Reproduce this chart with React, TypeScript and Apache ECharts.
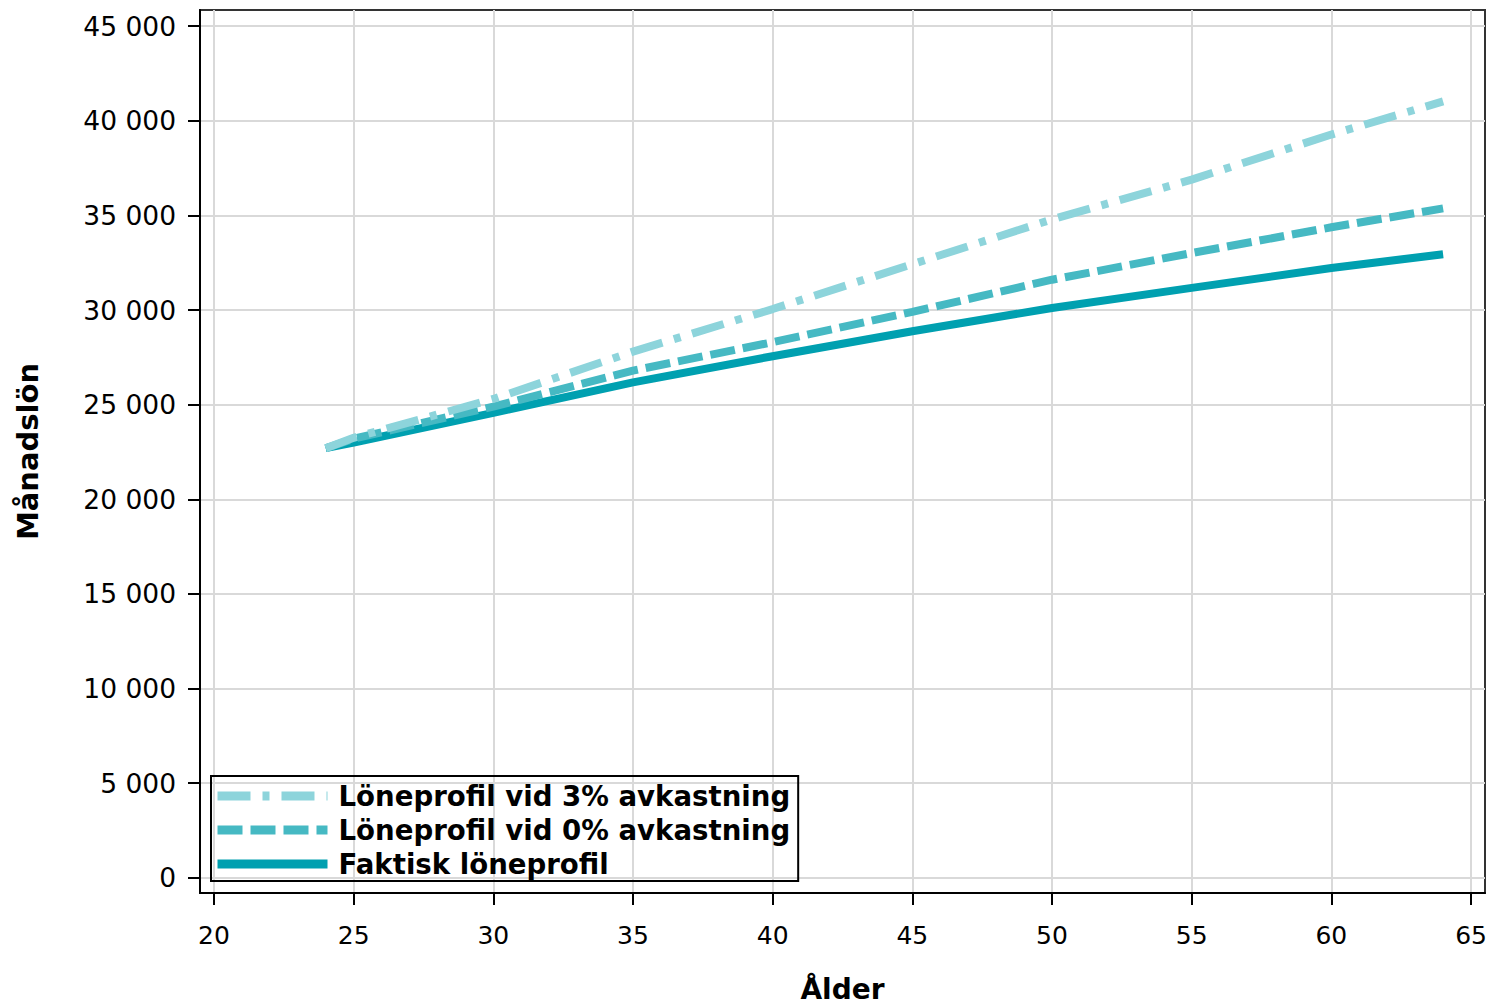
import React, { useEffect, useRef } from "react";
import * as echarts from "echarts";

const ages = [24, 25, 30, 35, 40, 45, 50, 55, 60, 64];
const actualProfile = [22700, 23000, 24570, 26180, 27560, 28880, 30110, 31170, 32220, 32950];
const zeroReturnProfile = [22700, 23200, 24900, 26800, 28300, 29900, 31600, 33010, 34370, 35370];
const threeReturnProfile = [22700, 23250, 25300, 27800, 30050, 32420, 34790, 36890, 39270, 41020];

const xTicks = [20, 25, 30, 35, 40, 45, 50, 55, 60, 65];
const yTicks = [0, 5000, 10000, 15000, 20000, 25000, 30000, 35000, 40000, 45000];

const seriesNames = [
  "Löneprofil vid 3% avkastning",
  "Löneprofil vid 0% avkastning",
  "Faktisk löneprofil",
];

const FONT = "'DejaVu Sans', Verdana, sans-serif";

const fmtThousands = (v: number) =>
  String(v).replace(/\B(?=(\d{3})+(?!\d))/g, " ");

export default function App() {
  const ref = useRef<HTMLDivElement>(null);

  useEffect(() => {
    document.body.style.margin = "0";
    if (!ref.current) return;
    const chart = echarts.init(ref.current, null, { renderer: "svg" });

    const pairs = (vals: number[]) => ages.map((a, i) => [a, vals[i]]);

    chart.setOption({
      animation: false,
      textStyle: { fontFamily: FONT },
      grid: {
        left: 200,
        right: 7,
        top: 10,
        bottom: 111,
        containLabel: false,
        outerBoundsMode: "none",
        show: true,
        borderColor: "#333",
        borderWidth: 2,
        backgroundColor: "transparent",
      },
      legend: {
        orient: "vertical",
        left: 211,
        top: 776,
        borderColor: "#000",
        borderWidth: 2,
        padding: [5, 8, 2, 2],
        itemWidth: 110,
        itemHeight: 14,
        itemGap: 4,
        itemStyle: { opacity: 0 },
        lineStyle: { width: 9 },
        textStyle: {
          fontFamily: FONT,
          fontSize: 27.6,
          fontWeight: "bold",
          color: "#000",
          lineHeight: 30,
          padding: [0, 0, 0, 6],
        },
        data: seriesNames,
      },
      xAxis: {
        type: "value",
        min: 19.5,
        max: 65.5,
        splitNumber: 9,
        name: "Ålder",
        nameLocation: "middle",
        nameGap: 82,
        nameTextStyle: {
          fontFamily: FONT,
          fontSize: 28,
          fontWeight: "bold",
          color: "#000",
        },
        axisLine: { show: true, onZero: false, lineStyle: { color: "#000", width: 2 } },
        axisTick: {
          show: true,
          length: 12,
          customValues: xTicks,
          lineStyle: { color: "#000", width: 2 },
        },
        axisLabel: {
          customValues: xTicks,
          fontFamily: FONT,
          fontSize: 25,
          color: "#000",
          margin: 30,
        },
        splitLine: { show: true, lineStyle: { color: "#d9d9d9", width: 2 } },
      },
      yAxis: {
        type: "value",
        min: -800,
        max: 45850,
        splitNumber: 9,
        name: "Månadslön",
        nameLocation: "middle",
        nameGap: 158,
        nameRotate: 90,
        nameTextStyle: {
          fontFamily: FONT,
          fontSize: 29,
          fontWeight: "bold",
          color: "#000",
        },
        axisLine: { show: true, onZero: false, lineStyle: { color: "#000", width: 2 } },
        axisTick: {
          show: true,
          length: 12,
          customValues: yTicks,
          lineStyle: { color: "#000", width: 2 },
        },
        axisLabel: {
          customValues: yTicks,
          formatter: (v: number) => fmtThousands(v),
          fontFamily: FONT,
          fontSize: 26.5,
          color: "#000",
          margin: 24,
        },
        splitLine: { show: true, lineStyle: { color: "#d9d9d9", width: 2 } },
      },
      series: [
        {
          name: seriesNames[2],
          type: "line",
          data: pairs(actualProfile),
          symbol: "none",
          color: "#00A0B0",
          lineStyle: { width: 8, color: "#00A0B0", type: "solid", cap: "butt" },
          z: 3,
        },
        {
          name: seriesNames[1],
          type: "line",
          data: pairs(zeroReturnProfile),
          symbol: "none",
          color: "#46B9C3",
          lineStyle: { width: 8, color: "#46B9C3", type: [25, 8], cap: "butt" },
          z: 4,
        },
        {
          name: seriesNames[0],
          type: "line",
          data: pairs(threeReturnProfile),
          symbol: "none",
          color: "#8DD4DB",
          lineStyle: { width: 8, color: "#8DD4DB", type: [33, 12, 7, 12], cap: "butt" },
          z: 5,
        },
      ],
    });

    return () => chart.dispose();
  }, []);

  return <div ref={ref} style={{ width: 1492, height: 1004 }} />;
}
